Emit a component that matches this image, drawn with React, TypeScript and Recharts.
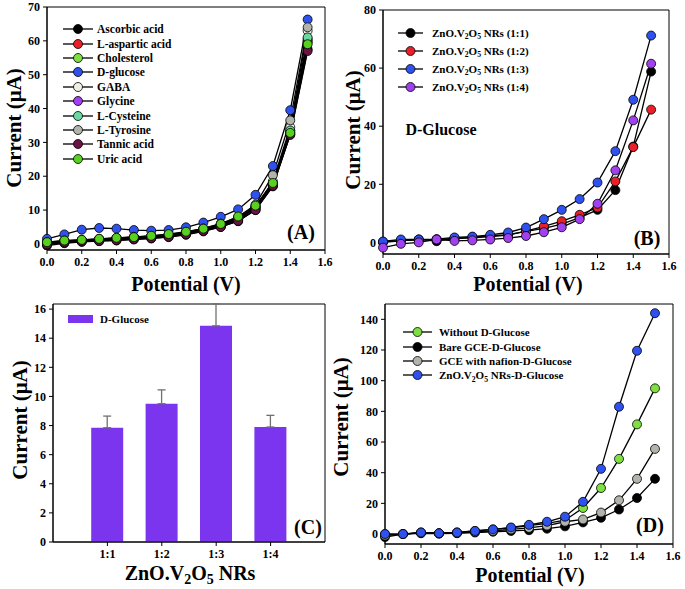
import React from 'react';
import {
    LineChart, Line, BarChart, Bar, ErrorBar, XAxis, YAxis, ReferenceArea, Legend,
} from 'recharts';

const potential = [0, 0.1, 0.2, 0.3, 0.4, 0.5, 0.6, 0.7, 0.8, 0.9, 1.0, 1.1, 1.2, 1.3, 1.4, 1.5];
const potentialTicks = [0, 0.2, 0.4, 0.6, 0.8, 1.0, 1.2, 1.4, 1.6];

// (A) interferents
const analyteNames = [
    'Ascorbic acid', 'L-aspartic acid', 'Cholesterol', 'D-glucose', 'GABA',
    'Glycine', 'L-Cysteine', 'L-Tyrosine', 'Tannic acid', 'Uric acid',
];
const analyteColors = [
    '#000000', '#e8202a', '#7ee040', '#2f52ee', '#eeeee2',
    '#a040ee', '#6ad8a0', '#b0b4aa', '#6a1444', '#58d01e',
];
const ascorbic = [-0.5, 0.2, 0.6, 0.8, 1.0, 1.3, 1.6, 2.0, 2.7, 3.7, 5.0, 6.7, 10.0, 17.0, 32.3, 57.5];
const aspartic = [0.2, 0.6, 0.9, 1.2, 1.4, 1.7, 2.0, 2.4, 3.1, 4.1, 5.4, 7.2, 10.6, 17.6, 33.0, 60.0];
const cholesterol = [0.4, 0.9, 1.1, 1.4, 1.7, 2.0, 2.3, 2.7, 3.4, 4.4, 5.7, 7.6, 11.0, 18.0, 33.5, 60.5];
const dGlucose = [1.5, 2.8, 4.2, 4.7, 4.5, 4.1, 3.9, 4.1, 4.9, 6.3, 8.0, 10.2, 14.5, 23.0, 39.5, 66.3];
const gaba = [0.3, 0.8, 1.0, 1.3, 1.6, 1.9, 2.2, 2.6, 3.3, 4.3, 5.6, 7.4, 10.9, 18.5, 34.5, 63.0];
const glycine = [0.0, 0.5, 0.8, 1.0, 1.3, 1.6, 1.9, 2.3, 3.0, 3.9, 5.2, 6.9, 10.2, 17.3, 32.6, 59.5];
const cysteine = [0.3, 0.8, 1.0, 1.3, 1.6, 1.9, 2.2, 2.6, 3.3, 4.3, 5.6, 7.5, 10.9, 17.8, 33.5, 61.0];
const tyrosine = [0.5, 1.0, 1.2, 1.5, 1.8, 2.1, 2.4, 2.8, 3.5, 4.6, 6.0, 7.9, 11.6, 20.3, 36.5, 64.0];
const tannic = [-0.2, 0.4, 0.7, 0.9, 1.1, 1.4, 1.7, 2.1, 2.8, 3.8, 5.0, 6.8, 10.0, 17.2, 32.2, 57.0];
const uric = [0.5, 1.0, 1.2, 1.5, 1.8, 2.0, 2.4, 2.9, 3.6, 4.5, 5.9, 8.1, 11.3, 18.0, 32.8, 59.0];
const analyteSeries = [ascorbic, aspartic, cholesterol, dGlucose, gaba, glycine, cysteine, tyrosine, tannic, uric];

// (B) molar ratios
const ratioNames = ['ZnO.V2O5 NRs (1:1)', 'ZnO.V2O5 NRs (1:2)', 'ZnO.V2O5 NRs (1:3)', 'ZnO.V2O5 NRs (1:4)'];
const ratioColors = ['#000000', '#e8202a', '#2f52ee', '#a040ee'];
const ratio11 = [0.0, 0.5, 1.0, 0.4, 1.4, 1.8, 2.2, 2.7, 3.8, 4.8, 6.3, 8.5, 11.2, 18.0, 33.0, 58.8];
const ratio12 = [0.2, 0.6, 0.9, 1.0, 1.3, 1.6, 2.0, 2.5, 3.9, 5.5, 7.3, 9.5, 12.0, 21.0, 32.8, 45.7];
const ratio13 = [0.3, 1.0, 1.0, 1.1, 1.7, 2.0, 2.6, 3.4, 5.1, 8.0, 11.2, 14.9, 20.6, 31.4, 49.1, 71.2];
const ratio14 = [-1.8, -0.5, 0.0, 1.0, 0.5, 0.7, 1.0, 1.5, 2.2, 3.5, 5.2, 8.0, 13.3, 24.8, 42.0, 61.5];
const ratioSeries = [ratio11, ratio12, ratio13, ratio14];

// (C) bar chart
const barLabels = ['1:1', '1:2', '1:3', '1:4'];
const barCurrent = [7.85, 9.5, 14.85, 7.9];
const barError = [0.8, 0.95, 1.5, 0.8];

// (D) electrodes
const electrodeNames = ['Without D-Glucose', 'Bare GCE-D-Glucose', 'GCE with nafion-D-Glucose', 'ZnO.V2O5 NRs-D-Glucose'];
const electrodeColors = ['#7ee040', '#000000', '#b0b4aa', '#2f52ee'];
const withoutGlucose = [0, 0, 1, 0.5, 1, 2, 3, 4, 5.5, 7, 9, 17, 30, 49, 71.5, 95];
const bareGce = [-2, 0, 0.5, 0.3, 0.5, 1, 1.5, 2, 2.5, 3.5, 5, 7.6, 10.6, 16, 23.5, 36];
const nafionGce = [-1, 0, 0.8, 0.4, 0.8, 1.5, 2, 3, 4, 5.5, 8, 9.5, 14, 22, 36, 55.5];
const nrsGce = [0, 0, 1, 0.5, 1, 2, 3, 4.3, 6, 8, 11.3, 21, 42.5, 83, 119.5, 144];
const electrodeSeries = [withoutGlucose, bareGce, nafionGce, nrsGce];

const FONT = '"Liberation Serif", "Times New Roman", serif';
const tickStyle = { fill: '#000', fontSize: 12, fontWeight: 'bold', fontFamily: FONT };

function toRows(series: number[][]) {
    return potential.map((p, i) => {
        const row: Record<string, number> = { p };
        series.forEach((s, k) => { row['s' + k] = s[i]; });
        return row;
    });
}

function Chem({ text }: { text: string }) {
    const parts = text.split('V2O5');
    if (parts.length === 1) return <>{text}</>;
    const sub = { fontSize: '0.7em', position: 'relative' as const, top: '0.3em' };
    return (
        <>
            {parts[0]}V<span style={sub}>2</span>O<span style={sub}>5</span>{parts[1]}
        </>
    );
}

function Txt({ x, y, size, rotate, children }: any) {
    return (
        <div style={{
            position: 'absolute', left: x, top: y, whiteSpace: 'nowrap',
            transform: `translate(-50%, -50%) rotate(${rotate ?? 0}deg)`,
            fontFamily: FONT, fontWeight: 'bold', fontSize: size, color: '#000', lineHeight: 1,
        }}>
            {children}
        </div>
    );
}

function MarkerLegend({ names, colors, rowH, lineW, gap, fontSize }: any) {
    return (
        <div style={{ fontFamily: FONT, fontWeight: 'bold', fontSize, color: '#000' }}>
            {names.map((n: string, i: number) => (
                <div key={n} style={{ display: 'flex', alignItems: 'center', height: rowH }}>
                    <svg width={lineW} height={12} style={{ flex: 'none' }}>
                        <line x1={0} y1={6} x2={lineW} y2={6} stroke="#000" strokeWidth={1.3} />
                        <circle cx={lineW / 2} cy={6} r={4.5} fill={colors[i]} stroke="#000" strokeWidth={0.8} />
                    </svg>
                    <span style={{ marginLeft: gap, whiteSpace: 'nowrap' }}><Chem text={n} /></span>
                </div>
            ))}
        </div>
    );
}

function CurvePanel({ x, y, w, h, margin, series, colors, yDomain, yTicks, legend }: any) {
    const data = toRows(series);
    return (
        <div style={{ position: 'absolute', left: x, top: y, fontFamily: FONT }}>
            <LineChart width={w} height={h} data={data} margin={margin} style={{ fontFamily: FONT }}>
                <XAxis
                    dataKey="p" type="number" domain={[0, 1.6]} ticks={potentialTicks} interval={0}
                    tickFormatter={(v: number) => v.toFixed(1)} tick={tickStyle}
                    tickSize={4} tickMargin={3} height={42}
                    axisLine={{ stroke: '#000' }} tickLine={{ stroke: '#000' }}
                />
                <YAxis
                    type="number" domain={yDomain} ticks={yTicks} interval={0} width={47}
                    tick={tickStyle} tickSize={4} tickMargin={3} allowDataOverflow
                    axisLine={{ stroke: '#000' }} tickLine={{ stroke: '#000' }}
                />
                <ReferenceArea x1={0} x2={1.6} y1={yDomain[0]} y2={yDomain[1]} fill="none" stroke="#000" strokeWidth={1} />
                {series.map((_: number[], k: number) => (
                    <Line
                        key={k} dataKey={'s' + k} type="linear" stroke="#000" strokeWidth={1.3}
                        dot={{ r: 4.5, fill: colors[k], stroke: '#000', strokeWidth: 0.8 }}
                        isAnimationActive={false}
                    />
                ))}
                {legend}
            </LineChart>
        </div>
    );
}

const barData = barLabels.map((label, i) => ({
    pos: i + 1, label, current: barCurrent[i], err: [0, barError[i]],
}));

export default function App() {
    return (
        <div style={{ position: 'absolute', left: 0, top: 0, width: 685, height: 589, background: '#fff', overflow: 'hidden', fontFamily: FONT }}>
            {/* (A) */}
            <CurvePanel
                x={0} y={0} w={335} h={292} margin={{ top: 7, right: 10, left: 0, bottom: 0 }}
                series={analyteSeries} colors={analyteColors}
                yDomain={[-1.8, 70]} yTicks={[0, 10, 20, 30, 40, 50, 60, 70]}
                legend={
                    <Legend
                        layout="vertical" align="center" verticalAlign="middle"
                        wrapperStyle={{ left: 63, top: 22, width: 'auto' }}
                        content={() => <MarkerLegend names={analyteNames} colors={analyteColors} rowH={14.4} lineW={30} gap={4} fontSize={11.5} />}
                    />
                }
            />
            <Txt x={14} y={128} size={21} rotate={-90}>Current (μA)</Txt>
            <Txt x={186} y={284} size={20}>Potential (V)</Txt>
            <Txt x={301} y={232} size={20}>(A)</Txt>

            {/* (B) */}
            <CurvePanel
                x={336} y={0} w={345} h={296} margin={{ top: 10, right: 12, left: 0, bottom: 0 }}
                series={ratioSeries} colors={ratioColors}
                yDomain={[-4, 80]} yTicks={[0, 20, 40, 60, 80]}
                legend={
                    <Legend
                        layout="vertical" align="center" verticalAlign="middle"
                        wrapperStyle={{ left: 62, top: 24, width: 'auto' }}
                        content={() => <MarkerLegend names={ratioNames} colors={ratioColors} rowH={18} lineW={25} gap={9} fontSize={11} />}
                    />
                }
            />
            <Txt x={353} y={130} size={21} rotate={-90}>Current (μA)</Txt>
            <Txt x={528} y={284} size={20}>Potential (V)</Txt>
            <Txt x={441} y={130} size={16}>D-Glucose</Txt>
            <Txt x={647} y={238} size={20}>(B)</Txt>

            {/* (C) */}
            <div style={{ position: 'absolute', left: 0, top: 290 }}>
                <BarChart width={335} height={294} data={barData} margin={{ top: 14, right: 10, left: 0, bottom: 0 }} style={{ fontFamily: FONT }}>
                    <XAxis
                        dataKey="pos" type="number" domain={[0, 5]} ticks={[1, 2, 3, 4]} interval={0}
                        tickFormatter={(v: number) => barLabels[v - 1] ?? ''} tick={tickStyle}
                        tickSize={4} tickMargin={3} height={42}
                        axisLine={{ stroke: '#000' }} tickLine={{ stroke: '#000' }}
                    />
                    <YAxis
                        type="number" domain={[0, 16.35]} ticks={[0, 2, 4, 6, 8, 10, 12, 14, 16]} interval={0} width={53}
                        tick={tickStyle} tickSize={4} tickMargin={3} allowDataOverflow
                        axisLine={{ stroke: '#000' }} tickLine={{ stroke: '#000' }}
                    />
                    <ReferenceArea x1={0} x2={5} y1={0} y2={16.35} fill="none" stroke="#000" strokeWidth={1} />
                    <Bar dataKey="current" fill="#7b35ee" barSize={32} isAnimationActive={false}>
                        <ErrorBar dataKey="err" width={4} stroke="#707070" strokeWidth={1.3} />
                    </Bar>
                    <Legend
                        layout="vertical" align="center" verticalAlign="middle"
                        wrapperStyle={{ left: 68, top: 23, width: 'auto' }}
                        content={() => (
                            <div style={{ display: 'flex', alignItems: 'center', fontFamily: FONT, fontWeight: 'bold', fontSize: 11 }}>
                                <div style={{ width: 25, height: 8, background: '#7b35ee' }} />
                                <span style={{ marginLeft: 7 }}>D-Glucose</span>
                            </div>
                        )}
                    />
                </BarChart>
            </div>
            <Txt x={20} y={420} size={21} rotate={-90}>Current (μA)</Txt>
            <Txt x={190} y={573} size={20}><Chem text="ZnO.V2O5 NRs" /></Txt>
            <Txt x={308} y={527} size={20}>(C)</Txt>

            {/* (D) */}
            <Txt x={341} y={417} size={21} rotate={-90}>Current (μA)</Txt>
            <CurvePanel
                x={338} y={290} w={345} h={296} margin={{ top: 14, right: 10, left: 0, bottom: 0 }}
                series={electrodeSeries} colors={electrodeColors}
                yDomain={[-6.5, 150]} yTicks={[0, 20, 40, 60, 80, 100, 120, 140]}
                legend={
                    <Legend
                        layout="vertical" align="center" verticalAlign="middle"
                        wrapperStyle={{ left: 65, top: 35, width: 'auto' }}
                        content={() => <MarkerLegend names={electrodeNames} colors={electrodeColors} rowH={14.4} lineW={29} gap={7} fontSize={11} />}
                    />
                }
            />
            <Txt x={530} y={575} size={20}>Potential (V)</Txt>
            <Txt x={650} y={525} size={20}>(D)</Txt>
        </div>
    );
}
